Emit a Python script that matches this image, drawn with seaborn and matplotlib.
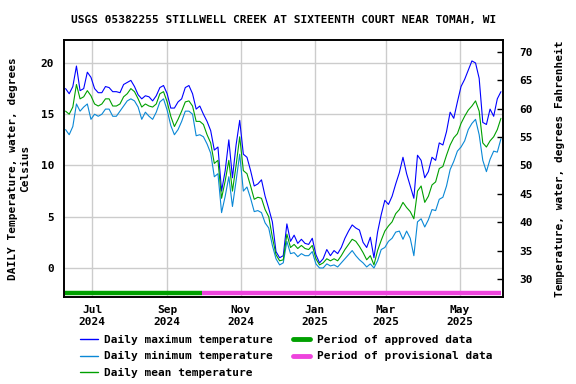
import matplotlib
matplotlib.use("Agg")
import matplotlib.pyplot as plt
from matplotlib.lines import Line2D
import numpy as np
import pandas as pd
import seaborn as sns

sns.set_theme(style="white")
plt.rcParams['font.family'] = ['DejaVu Sans Mono', 'DejaVu Sans']
plt.rcParams['font.weight'] = 'bold'
plt.rcParams['font.size'] = 8
plt.rcParams['axes.labelsize'] = 8
plt.rcParams['axes.titlesize'] = 8
plt.rcParams['xtick.labelsize'] = 8
plt.rcParams['ytick.labelsize'] = 8
plt.rcParams['legend.fontsize'] = 8
plt.rcParams['axes.labelweight'] = 'bold'
plt.rcParams['axes.titleweight'] = 'bold'
plt.rcParams['text.color'] = 'black'
plt.rcParams['axes.labelcolor'] = 'black'
plt.rcParams['xtick.color'] = 'black'
plt.rcParams['ytick.color'] = 'black'

# ---- data (degrees Celsius, every 3 days starting 2024-06-09) ----
start_date = "2024-06-09"
step_days = 3

daily_max = [
    17.5, 17.0, 17.7, 19.7, 17.3, 17.5, 19.1, 18.6, 17.5, 17.1,
    17.1, 17.7, 17.6, 17.2, 17.2, 17.1, 17.9, 18.1, 18.3, 17.7,
    16.9, 16.5, 16.8, 16.7, 16.3, 16.8, 17.6, 17.8, 17.0, 15.6,
    15.6, 16.2, 16.5, 17.6, 17.8, 17.0, 15.5, 15.8, 15.0, 14.3,
    13.4, 11.5, 11.8, 7.5, 9.5, 12.5, 8.8, 12.0, 14.4, 11.1,
    10.8, 9.5, 8.0, 8.2, 8.6, 7.0, 5.8, 4.5, 1.6, 1.0,
    1.2, 4.3, 2.6, 3.2, 2.4, 2.8, 2.4, 2.3, 2.9, 1.3,
    0.5, 0.9, 1.8, 1.2, 1.7, 1.4, 2.0, 2.9, 3.6, 4.2,
    3.9, 3.7, 2.5, 2.0, 3.0, 1.0, 3.5, 5.2, 6.6, 6.2,
    7.0, 8.2, 9.3, 10.8, 9.2, 8.0, 6.8, 11.0, 10.5, 8.8,
    9.4, 10.8, 10.5, 12.2, 12.0, 13.3, 15.2, 14.6, 16.2, 17.7,
    18.4, 19.3, 20.2, 20.0, 18.5, 14.2, 14.0, 15.5, 14.8, 16.5,
    17.2,
]
daily_min = [
    13.5, 13.0, 13.8, 16.0, 15.3, 15.7, 16.0, 14.5, 15.0, 14.8,
    15.0, 15.5, 15.5, 14.8, 14.8, 15.3, 15.8, 16.3, 16.5, 16.3,
    15.7, 14.5, 15.2, 14.8, 14.5, 15.2, 16.2, 16.5, 15.4, 13.9,
    13.0, 13.5, 14.3, 15.3, 15.3, 15.0, 12.9, 13.0, 12.8, 12.1,
    11.2, 8.9, 9.2, 5.4, 7.0, 8.9, 6.0, 8.5, 11.1, 7.5,
    7.9, 6.8, 5.5, 5.6, 5.4, 4.4, 3.9, 2.2, 0.9, 0.3,
    0.5, 2.6, 1.4, 1.5, 1.1, 1.4, 1.2, 1.2, 1.6, 0.4,
    0.0, 0.0, 0.4, 0.2, 0.3, 0.1, 0.5, 0.9, 1.3, 1.7,
    1.2, 0.8, 0.5, 0.1, 0.4, 0.0, 0.7, 1.8, 2.0, 2.6,
    2.9, 3.5, 3.6, 2.8, 3.6, 2.9, 1.2, 4.5, 4.8, 4.0,
    4.7, 5.7, 5.6, 6.7, 6.9, 8.0, 9.6, 10.4, 11.4, 11.8,
    12.4, 13.5, 14.1, 14.5, 13.0, 10.5, 9.4, 10.6, 11.4, 11.3,
    12.6,
]
daily_mean = [
    15.3, 15.0, 15.7, 17.9, 16.5, 16.7, 17.3, 16.8, 16.0, 15.8,
    16.0, 16.5, 16.5, 15.8, 15.8, 16.0, 16.7, 17.0, 17.5, 17.2,
    16.5, 15.7, 16.0, 15.8, 15.7, 16.0, 17.0, 17.2, 16.2, 14.8,
    13.8, 14.5, 15.3, 16.2, 16.3, 15.8, 14.3, 14.3, 14.0, 13.0,
    12.2, 10.2, 10.5, 6.8, 8.5, 10.5, 7.5, 10.0, 12.8, 9.5,
    9.2, 8.0, 6.7, 6.9, 6.8, 5.7, 5.0, 3.0, 1.3, 0.7,
    0.8, 3.3, 2.0, 2.3, 1.9, 2.2, 1.9, 1.8, 2.2, 0.9,
    0.3, 0.5, 0.9, 0.7, 0.9, 0.7, 1.2, 1.8, 2.3, 2.8,
    2.6, 2.1, 1.5, 0.8, 1.2, 0.3, 1.7, 2.7, 3.6, 4.1,
    4.5, 5.3, 5.7, 6.4, 5.9, 5.5, 4.8, 7.5, 8.0, 6.4,
    7.0, 8.1, 8.4, 9.7, 9.9, 11.0, 12.0, 12.7, 13.1, 14.1,
    14.8, 15.4, 15.8, 16.3, 15.3, 12.2, 11.8, 12.4, 12.8, 13.5,
    14.6,
]

approved_end = "2024-09-30"
x_tick_dates = ["2024-07-01", "2024-09-01", "2024-11-01", "2025-01-01", "2025-03-01", "2025-05-01"]
x_tick_labels = ["Jul\n2024", "Sep\n2024", "Nov\n2024", "Jan\n2025", "Mar\n2025", "May\n2025"]
c_ticks = [0, 5, 10, 15, 20]
f_ticks = [30, 35, 40, 45, 50, 55, 60, 65, 70]

title = "USGS 05382255 STILLWELL CREEK AT SIXTEENTH COURT NEAR TOMAH, WI"

dates = pd.date_range(start_date, periods=len(daily_max), freq=f"{step_days}D")
df = pd.DataFrame({"date": dates, "max": daily_max, "min": daily_min, "mean": daily_mean})

c_max = "#0000ff"
c_min = "#0a88d6"
c_mean = "#00a000"
c_appr = "#00a000"
c_prov = "#ee44dd"

fig = plt.figure(figsize=(5.76, 3.84), dpi=100)
ax = fig.add_axes([64/576, 1 - 297/384, (503-64)/576, (297-40)/384])

ax.grid(True, color="#cccccc", linewidth=1.0)
ax.set_axisbelow(True)

sns.lineplot(data=df, x="date", y="max", ax=ax, color=c_max, linewidth=0.8)
sns.lineplot(data=df, x="date", y="min", ax=ax, color=c_min, linewidth=0.8)
sns.lineplot(data=df, x="date", y="mean", ax=ax, color=c_mean, linewidth=0.8)

ylo, yhi = -2.83, 22.24
bar_y = -2.44
ax.plot([dates[0] - pd.Timedelta(days=1), pd.Timestamp(approved_end)], [bar_y, bar_y],
        color=c_appr, linewidth=3.2, solid_capstyle="butt")
ax.plot([pd.Timestamp(approved_end), dates[-1]], [bar_y, bar_y],
        color=c_prov, linewidth=3.2, solid_capstyle="butt")

ax.set_xlim(pd.Timestamp("2024-06-07 17:00"), pd.Timestamp("2025-06-05 17:00"))
ax.set_ylim(ylo, yhi)
ax.set_xticks(pd.to_datetime(x_tick_dates))
ax.set_xticklabels(x_tick_labels, fontsize=8, fontweight="bold", color="black")
ax.set_yticks(c_ticks)
ax.set_yticklabels([str(v) for v in c_ticks], fontsize=8, fontweight="bold", color="black")
ax.tick_params(axis="x", length=0, pad=6)
ax.tick_params(axis="y", length=0, pad=7)
ax.set_xlabel("")
ax.set_ylabel("DAILY Temperature, water, degrees\nCelsius", labelpad=8,
              fontsize=8, fontweight="bold", color="black")
ax.set_title(title, pad=12, fontsize=8, fontweight="bold", color="black")

for s in ax.spines.values():
    s.set_color("black")
    s.set_linewidth(1.2)
    s.set_visible(True)

ax2 = ax.twinx()
ax2.set_ylim(ylo * 9 / 5 + 32, yhi * 9 / 5 + 32)
ax2.set_yticks(f_ticks)
ax2.set_yticklabels([str(v) for v in f_ticks], fontsize=8, fontweight="bold", color="black")
ax2.tick_params(axis="y", direction="in", length=4, width=1, color="black",
                labelcolor="black", pad=12)
ax2.set_ylabel("Temperature, water, degrees Fahrenheit", labelpad=16,
               fontsize=8, fontweight="bold", color="black")
ax2.grid(False)
for s in ax2.spines.values():
    s.set_color("black")
    s.set_linewidth(1.2)

handles = [
    Line2D([], [], color=c_max, linewidth=1.0, label="Daily maximum temperature"),
    Line2D([], [], color=c_min, linewidth=1.0, label="Daily minimum temperature"),
    Line2D([], [], color=c_mean, linewidth=1.0, label="Daily mean temperature"),
    Line2D([], [], color=c_appr, linewidth=3.5, label="Period of approved data"),
    Line2D([], [], color=c_prov, linewidth=3.5, label="Period of provisional data"),
]
fig.legend(handles=handles, loc="upper left", bbox_to_anchor=(80/576, 1 - 335/384),
           ncol=2, frameon=False, prop={"size": 8, "weight": "bold"},
           handlelength=1.6, handletextpad=0.6,
           columnspacing=1.75, labelspacing=0.57, borderaxespad=0, borderpad=0)

fig.savefig("out.png", dpi=100)
